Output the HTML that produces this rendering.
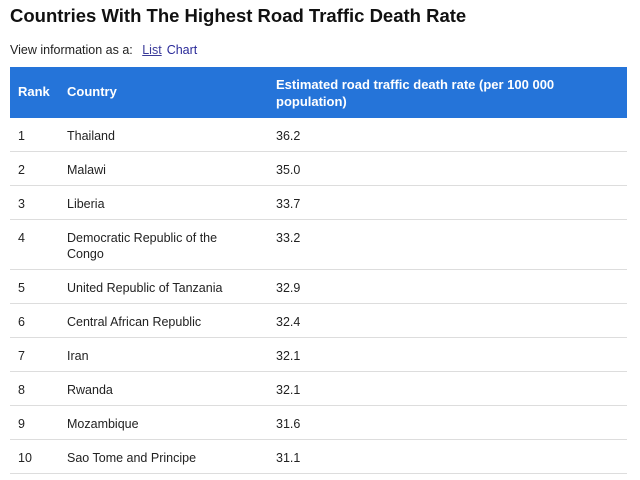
<!DOCTYPE html>
<html><head><meta charset="utf-8"><style>
body{margin:0;width:640px;height:480px;background:#fff;font-family:"Liberation Sans",Arial,sans-serif;color:#222;position:relative;overflow:hidden}
#title{position:absolute;left:10px;top:5px;font-size:18.5px;font-weight:bold;color:#111;margin:0}
#view{position:absolute;left:10px;top:43px;font-size:12.5px;color:#222}
#view a{color:#1a0dab;margin-left:6px}
#view a.list{color:#3a3a99;text-decoration:underline}
#view a.chart{text-decoration:none;color:#2a2a99;margin-left:5px}
#hdr{position:absolute;left:10px;top:67px;width:617px;height:51px;background:#2574d9;color:#fff;font-size:13px;font-weight:bold}
#hdr div{position:absolute}
.row{position:absolute;left:10px;width:617px;border-bottom:1px solid #ddd;font-size:12.5px}
.row div{position:absolute;top:10px;line-height:16px}
</style></head><body>
<h1 id="title">Countries With The Highest Road Traffic Death Rate</h1>
<div id="view">View information as a: <a class="list">List</a><a class="chart">Chart</a></div>
<div id="hdr">
<div style="left:8px;top:17px">Rank</div>
<div style="left:57px;top:17px">Country</div>
<div style="left:266px;top:9px;line-height:17px;width:320px">Estimated road traffic death rate (per 100 000 population)</div>
</div>
<div id="rows"></div>
<script>
const ranks=[1,2,3,4,5,6,7,8,9,10];
const countries=["Thailand","Malawi","Liberia","Democratic Republic of the Congo","United Republic of Tanzania","Central African Republic","Iran","Rwanda","Mozambique","Sao Tome and Principe"];
const rates=["36.2","35.0","33.7","33.2","32.9","32.4","32.1","32.1","31.6","31.1"];
const c=document.getElementById('rows');
let y=118;
for(let i=0;i<ranks.length;i++){
  const h=(i===3)?50:34;
  const r=document.createElement('div');
  r.className='row';
  
  
  r.style.top=y+'px';r.style.height=(h-1)+'px';
  const a=document.createElement('div');a.style.left='8px';a.textContent=ranks[i];
  
  
  const b=document.createElement('div');b.style.left='57px';b.style.width='170px';b.textContent=countries[i];
  
  
  const d=document.createElement('div');d.style.left='266px';d.textContent=rates[i];
  
  
  r.append(a,b,d);c.appendChild(r);
  y+=h;
}
</script>
</body></html>
